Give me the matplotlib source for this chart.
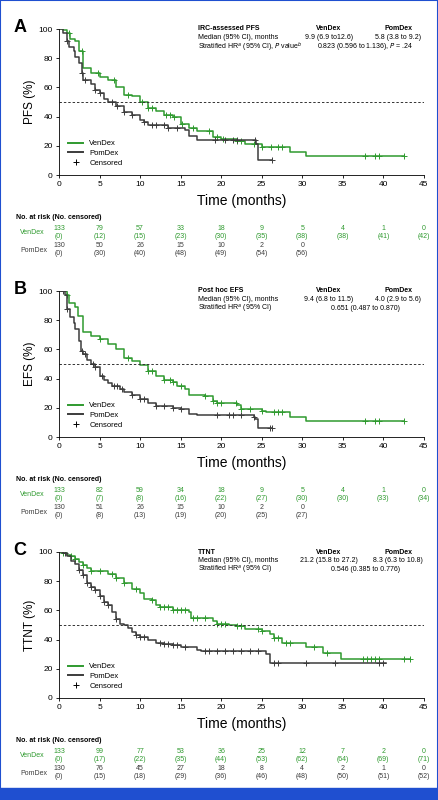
import numpy as np
import matplotlib
matplotlib.use("Agg")
import matplotlib.pyplot as plt
from matplotlib.lines import Line2D
from matplotlib.patches import Rectangle

plt.rcParams['font.family'] = ['Liberation Sans', 'DejaVu Sans']

GREEN = '#2f9a2f'
GRAY = '#3c3c3c'

# ---- data ----
# panel A, PFS
a_ven_t = [0, 0.5, 1, 1.3, 2, 2.5, 3, 4, 5, 6, 7, 8, 9, 10, 11, 12, 13, 14, 15, 16, 17, 19, 20, 22, 23, 25, 28.5, 30.5, 42.5]
a_ven_s = [100, 99, 97, 93, 92, 85, 73, 70, 67, 65, 60, 55, 54, 50, 46, 44, 41, 40, 35, 32, 30, 26, 25, 23, 21, 19, 16, 13, 13]
a_ven_c = [1.2, 2.8, 4.8, 6.8, 8.5, 10.2, 11, 11.5, 13.2, 13.7, 14.2, 15.2, 16.5, 18.5, 19.5, 20.2, 22, 22.5, 24, 25, 26.2, 27, 27.5, 37.8, 39, 39.5, 42.5]
a_pom_t = [0, 0.5, 1, 1.2, 1.8, 2, 2.5, 2.8, 3, 4, 4.5, 5, 5.5, 6, 7, 8, 9, 10, 10.5, 11, 13.5, 15.5, 16, 17, 24.3, 24.6, 26.3]
a_pom_s = [100, 97, 92, 88, 85, 81, 77, 70, 65, 62, 58, 56, 52, 50, 47, 43, 41, 38, 36, 34, 32, 31, 27, 24, 21, 10, 10]
a_pom_c = [1, 2.8, 3.2, 4.5, 5, 6.5, 7.2, 8, 9, 10.5, 11.5, 12, 13, 13.5, 14.5, 19.2, 20.5, 21.5, 22, 24.2, 26.3]

# panel B, EFS
b_ven_t = [0, 1, 1.2, 2, 2.3, 3, 4, 5, 6, 7, 8, 9, 10, 11, 12, 13, 14, 14.5, 15.5, 16, 18, 19, 19.5, 22, 22.5, 25, 25.5, 28.5, 30.5, 42.5]
b_ven_s = [100, 97, 92, 89, 83, 72, 69, 67, 64, 60, 54, 52, 49, 45, 42, 39, 38, 35, 33, 29, 28, 25, 23, 22, 19, 18, 17, 14, 11, 11]
b_ven_c = [1, 5, 8.5, 11, 11.5, 13, 13.7, 14, 15, 18, 19, 19.5, 20, 21.8, 22.5, 23.5, 25, 26.5, 27, 27.5, 37.8, 39, 39.5, 42.5]
b_pom_t = [0, 0.8, 1, 1.3, 1.8, 2, 2.5, 2.7, 3, 3.5, 4, 4.5, 5, 5.5, 6, 6.5, 7.5, 8, 9, 10, 11, 12, 14, 15, 16, 17, 24, 24.2, 24.5, 26.3]
b_pom_s = [100, 97, 88, 82, 78, 74, 66, 59, 57, 53, 50, 48, 42, 39, 37, 35, 33, 31, 29, 26, 23, 21, 20, 19, 16, 15, 14, 12, 6, 6]
b_pom_c = [0.5, 1, 2.8, 3.2, 4.2, 4.5, 5.3, 6.8, 7.2, 7.8, 9, 10, 10.5, 12, 13, 14, 15, 19.5, 21, 21.5, 22.5, 24, 26, 26.3]

# panel C, TTNT
c_ven_t = [0, 0.5, 1, 1.5, 2, 2.5, 3, 3.5, 4, 6, 7, 8, 9, 10, 10.5, 11.5, 12, 12.5, 14, 16, 16.3, 19, 19.5, 21, 22, 23, 25, 26, 26.5, 27.5, 30.5, 32.5, 34.8, 43.3]
c_ven_s = [100, 99, 98, 97, 95, 93, 91, 89, 87, 85, 82, 79, 75, 72, 68, 67, 64, 62, 60, 59, 55, 53, 51, 50, 49, 47, 46, 44, 41, 38, 35, 31, 27, 27]
c_ven_c = [0.5, 1.5, 2, 3, 4, 5, 6.5, 7, 8, 9.5, 11.5, 12.5, 13, 13.5, 14, 14.5, 15, 15.5, 16.5, 17, 18, 19.5, 20, 20.5, 22, 22.5, 24.5, 25,
           26.5, 27, 28, 28.5, 31.5, 33, 37.5, 38, 38.5, 39, 39.5, 42.5, 43.3]
c_pom_t = [0, 0.5, 1, 1.5, 2, 2.5, 3, 3.5, 4, 4.5, 5, 5.5, 6, 6.5, 7, 7.5, 8, 8.5, 9, 9.5, 10, 11, 12, 13, 14, 15, 17, 17.5, 25.5, 26, 40.3]
c_pom_s = [100, 99, 97, 94, 92, 88, 84, 79, 76, 74, 70, 66, 64, 59, 54, 51, 50, 48, 45, 43, 42, 40, 38, 37, 36, 35, 33, 32, 30, 24, 24]
c_pom_c = [0.8, 2.5, 3, 3.5, 4, 4.5, 5, 5.5, 6, 7, 9.5, 10, 10.5, 12.5, 13, 13.5, 14, 14.5, 15.5, 18, 18.5, 19.5, 20.5, 21.5, 22.5, 23.5,
           24.5, 26.5, 27, 30.5, 34, 39.5, 40]

risk_times = [0, 5, 10, 15, 20, 25, 30, 35, 40, 45]
a_ven_risk = [133, 79, 57, 33, 18, 9, 5, 4, 1, 0]
a_ven_cens = [0, 12, 15, 23, 30, 35, 38, 38, 41, 42]
a_pom_risk = [130, 50, 26, 15, 10, 2, 0]
a_pom_cens = [0, 30, 40, 48, 49, 54, 56]
b_ven_risk = [133, 82, 59, 34, 18, 9, 5, 4, 1, 0]
b_ven_cens = [0, 7, 8, 16, 22, 27, 30, 30, 33, 34]
b_pom_risk = [130, 51, 26, 15, 10, 2, 0]
b_pom_cens = [0, 8, 13, 19, 20, 25, 27]
c_ven_risk = [133, 99, 77, 53, 36, 25, 12, 7, 2, 0]
c_ven_cens = [0, 17, 22, 35, 44, 53, 62, 64, 69, 71]
c_pom_risk = [130, 76, 45, 27, 18, 8, 4, 2, 1, 0]
c_pom_cens = [0, 15, 18, 29, 36, 46, 48, 50, 51, 52]

panels = [
    dict(letter='A', ylabel='PFS (%)', bottom=0.78125,
         ven=(a_ven_t, a_ven_s, a_ven_c), pom=(a_pom_t, a_pom_s, a_pom_c),
         risk=(a_ven_risk, a_ven_cens, a_pom_risk, a_pom_cens),
         info=['IRC-assessed PFS', 'Median (95% CI), months', 'Stratified HR$^{a}$ (95% CI), $P$ value$^{b}$'],
         ven_med='9.9 (6.9 to12.6)', pom_med='5.8 (3.8 to 9.2)', hr='0.823 (0.596 to 1.136), $P$ = .24'),
    dict(letter='B', ylabel='EFS (%)', bottom=0.45375,
         ven=(b_ven_t, b_ven_s, b_ven_c), pom=(b_pom_t, b_pom_s, b_pom_c),
         risk=(b_ven_risk, b_ven_cens, b_pom_risk, b_pom_cens),
         info=['Post hoc EFS', 'Median (95% CI), months', 'Stratified HR$^{a}$ (95% CI)'],
         ven_med='9.4 (6.8 to 11.5)', pom_med='4.0 (2.9 to 5.6)', hr='0.651 (0.487 to 0.870)'),
    dict(letter='C', ylabel='TTNT (%)', bottom=0.1275,
         ven=(c_ven_t, c_ven_s, c_ven_c), pom=(c_pom_t, c_pom_s, c_pom_c),
         risk=(c_ven_risk, c_ven_cens, c_pom_risk, c_pom_cens),
         info=['TTNT', 'Median (95% CI), months', 'Stratified HR$^{a}$ (95% CI)'],
         ven_med='21.2 (15.8 to 27.2)', pom_med='8.3 (6.3 to 10.8)', hr='0.546 (0.385 to 0.776)'),
]


def step_at(times, surv, t):
    i = np.searchsorted(times, t, side='right') - 1
    return surv[max(i, 0)]


def draw_curve(ax, data, color):
    t, s, c = data
    ax.step(t, s, where='post', color=color, lw=1.1)
    cy = [step_at(t, s, x) for x in c]
    ax.plot(c, cy, ls='none', marker='+', ms=4, mew=0.7, color=color)


fig = plt.figure(figsize=(4.38, 8), dpi=100)
fig.patch.set_facecolor('white')
FS = 5

for p in panels:
    ax = fig.add_axes([0.1347, p['bottom'], 0.833, 0.1825])
    draw_curve(ax, p['ven'], GREEN)
    draw_curve(ax, p['pom'], GRAY)
    ax.plot([0, 45], [50, 50], ls=(0, (2.5, 2)), color='#333333', lw=0.7)
    ax.set_xlim(0, 45)
    ax.set_ylim(0, 100)
    ax.set_xticks(range(0, 46, 5))
    ax.set_yticks(range(0, 101, 20))
    ax.tick_params(labelsize=6, length=2.5, width=0.6, pad=2)
    for sp in ['top', 'right']:
        ax.spines[sp].set_visible(False)
    for sp in ['left', 'bottom']:
        ax.spines[sp].set_linewidth(0.6)
    ax.set_ylabel(p['ylabel'], fontsize=8.5, labelpad=2)
    ax.set_xlabel('Time (months)', fontsize=10, labelpad=4)
    ax.text(-0.125, 1.07, p['letter'], transform=ax.transAxes, fontsize=13, fontweight='bold', va='top')

    # info block
    tr = ax.transAxes
    ys = [1.0, 0.94, 0.877]
    ax.text(0.38, ys[0], p['info'][0], transform=tr, fontsize=FS, fontweight='bold', va='center')
    ax.text(0.38, ys[1], p['info'][1], transform=tr, fontsize=FS, va='center')
    ax.text(0.38, ys[2], p['info'][2], transform=tr, fontsize=FS, va='center')
    ax.text(0.74, ys[0], 'VenDex', transform=tr, fontsize=FS, fontweight='bold', va='center', ha='center')
    ax.text(0.93, ys[0], 'PomDex', transform=tr, fontsize=FS, fontweight='bold', va='center', ha='center')
    ax.text(0.74, ys[1], p['ven_med'], transform=tr, fontsize=FS, va='center', ha='center')
    ax.text(0.93, ys[1], p['pom_med'], transform=tr, fontsize=FS, va='center', ha='center')
    ax.text(0.84, ys[2], p['hr'], transform=tr, fontsize=FS, va='center', ha='center')

    handles = [Line2D([], [], color=GREEN, lw=1.4), Line2D([], [], color=GRAY, lw=1.4),
               Line2D([], [], color='black', ls='none', marker='+', ms=4, mew=0.7)]
    ax.legend(handles, ['VenDex', 'PomDex', 'Censored'], loc='lower left', bbox_to_anchor=(0.01, 0.02),
              frameon=False, fontsize=5.5, handlelength=2, labelspacing=0.3, borderaxespad=0.3)

    # risk table
    xt = ax.get_xaxis_transform()
    vr, vc, pr, pc = p['risk']
    ax.text(-5.3, -0.29, 'No. at risk (No. censored)', transform=xt, fontsize=FS, fontweight='bold',
            va='center', clip_on=False)
    ax.text(-4.8, -0.395, 'VenDex', transform=xt, fontsize=FS, color=GREEN, va='center')
    ax.text(-4.8, -0.515, 'PomDex', transform=xt, fontsize=FS, color=GRAY, va='center')
    for x, n, c in zip(risk_times, vr, vc):
        ax.text(x, -0.365, str(n), transform=xt, fontsize=FS, color=GREEN, ha='center', va='center')
        ax.text(x, -0.42, f'({c})', transform=xt, fontsize=FS, color=GREEN, ha='center', va='center')
    for x, n, c in zip(risk_times, pr, pc):
        ax.text(x, -0.485, str(n), transform=xt, fontsize=FS, color=GRAY, ha='center', va='center')
        ax.text(x, -0.54, f'({c})', transform=xt, fontsize=FS, color=GRAY, ha='center', va='center')

# blue frame and bottom band
fig.patches.append(Rectangle((0, 0), 1, 0.015, transform=fig.transFigure, color='#1f4fd0', zorder=10))
fig.patches.append(Rectangle((0, 0), 1, 1, transform=fig.transFigure, fill=False, ec='#1f4fd0', lw=1.5, zorder=10))

fig.savefig('out.png', dpi=100)
